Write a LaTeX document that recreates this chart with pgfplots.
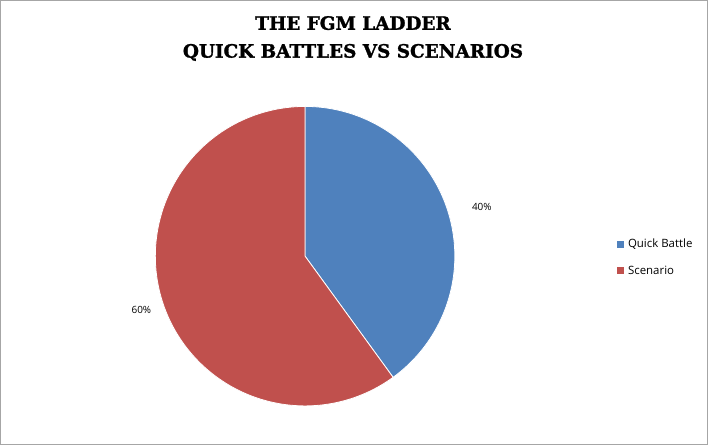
\documentclass[border=0pt]{standalone}
\usepackage{fontspec}
\setmainfont{Open Sans}
\newfontfamily\titlefont{DejaVu Serif}[BoldFeatures={FakeBold=1.5}]
\usepackage{pgfplots}
\pgfplotsset{compat=1.18}

\definecolor{qbBlue}{HTML}{4F81BD}
\definecolor{scRed}{HTML}{C0504D}

% shares in percent
\def\quickbattle{40}
\def\scenario{60}

\begin{document}
\begin{tikzpicture}
\begin{axis}[
    scale only axis,
    width=708bp, height=445bp,
    xmin=0, xmax=708, ymin=0, ymax=445,
    axis line style={draw=gray!70, line width=1.2pt},
    xtick=\empty, ytick=\empty,
    clip=false,
]
  % Quick Battle wedge, clockwise from 12 o'clock
  \addplot[fill=qbBlue, draw=white, line width=0.8pt, domain={90-3.6*\quickbattle}:90, samples=120]
    ({305+150*cos(x)}, {189+150*sin(x)}) -- (axis cs:305,189) -- cycle;
  % Scenario wedge
  \addplot[fill=scRed, draw=white, line width=0.8pt, domain=90:{450-3.6*\quickbattle}, samples=160]
    ({305+150*cos(x)}, {189+150*sin(x)}) -- (axis cs:305,189) -- cycle;

  \node[font=\fontsize{10}{12}\selectfont] at (axis cs:482,238) {\quickbattle\%};
  \node[font=\fontsize{10}{12}\selectfont] at (axis cs:141,135) {\scenario\%};

  % legend
  \fill[qbBlue] (axis cs:617,197.5) rectangle (axis cs:624,204.5);
  \node[anchor=west, font=\fontsize{11.5}{13}\selectfont] at (axis cs:625,201) {Quick Battle};
  \fill[scRed] (axis cs:617,171.5) rectangle (axis cs:624,178.5);
  \node[anchor=west, font=\fontsize{11.5}{13}\selectfont] at (axis cs:625,175) {Scenario};

  % title
  \node[align=center, font=\titlefont\bfseries\fontsize{18.5}{28}\selectfont] at (axis cs:353,407)
    {THE FGM LADDER\\QUICK BATTLES VS SCENARIOS};
\end{axis}
\end{tikzpicture}
\end{document}
